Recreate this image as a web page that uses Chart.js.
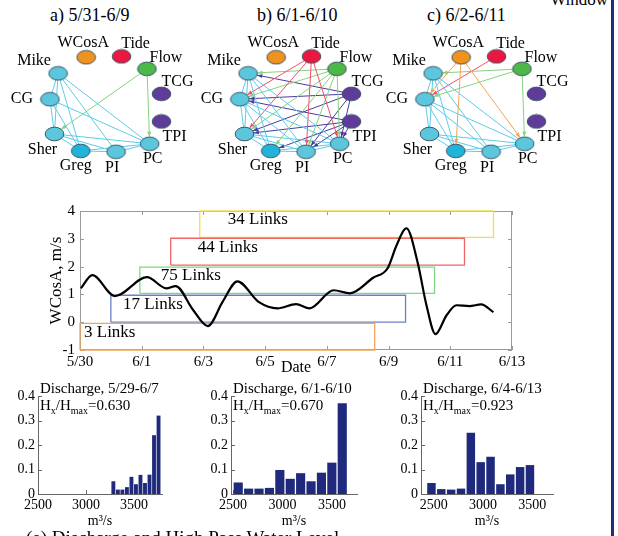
<!DOCTYPE html>
<html>
<head>
<meta charset="utf-8">
<script src="https://cdn.jsdelivr.net/npm/chart.js@4.4.0/dist/chart.umd.min.js"></script>
<style>
body { margin: 0; background: #fff; width: 618px; height: 536px; overflow: hidden; position: relative; font-family: 'Liberation Serif', serif; }
canvas { position: absolute; }
.t { position: absolute; white-space: nowrap; color: #000; line-height: 20px; }
</style>
</head>
<body>
<div class="t" style="left:50px;top:5px;font-size:18px">a) 5/31-6/9</div>
<div class="t" style="left:257px;top:5px;font-size:18px">b) 6/1-6/10</div>
<div class="t" style="left:427px;top:5px;font-size:18px">c) 6/2-6/11</div>
<div class="t" style="right:10px;top:-10px;font-size:17px">Window</div>
<div style="position:absolute;left:611px;top:0;width:3px;height:536px;background:#262b7a"></div>

<canvas id="netA" width="215" height="185" style="left:0;top:0"></canvas>
<canvas id="netB" width="215" height="185" style="left:190px;top:0"></canvas>
<canvas id="netC" width="215" height="185" style="left:375px;top:0"></canvas>
<canvas id="line" width="530" height="185" style="left:0;top:195px"></canvas>
<canvas id="h1" width="185" height="160" style="left:0;top:372px"></canvas>
<canvas id="h2" width="185" height="160" style="left:190px;top:372px"></canvas>
<canvas id="h3" width="200" height="160" style="left:380px;top:372px"></canvas>

<div class="t" style="left:26px;top:528px;font-size:19px">(e) Discharge and High Pass Water Level</div>

<script>
// ---- network panels ----
const nodeNames = ['WCosA', 'Tide', 'Flow', 'Mike', 'TCG', 'CG', 'TPI', 'Sher', 'PC', 'Greg', 'PI'];
// layout of the ring (same in all three panels)
const nodeX = [84, 123, 151, 53, 167, 44, 167, 49, 154, 78, 117];
const nodeY = [53, 52, 66, 71, 94, 100, 125, 139, 150, 158, 159];

const edgesA = [
    ['Mike', 'CG'], ['Mike', 'Sher'], ['Mike', 'Greg'], ['Mike', 'PI'], ['Mike', 'PC'],
    ['CG', 'Sher'], ['CG', 'Greg'], ['CG', 'PC'], ['Sher', 'Greg'], ['Sher', 'PC'], ['Sher', 'PI'],
    ['Greg', 'PI'], ['Greg', 'PC'], ['PI', 'PC'],
    ['Flow', 'Sher'], ['Flow', 'PC']
];
const edgesB = [
    ['Mike', 'CG'], ['Mike', 'Sher'], ['Mike', 'Greg'], ['Mike', 'PI'], ['Mike', 'PC'],
    ['CG', 'Sher'], ['CG', 'Greg'], ['CG', 'PI'], ['CG', 'PC'], ['Sher', 'Greg'], ['Sher', 'PI'], ['Sher', 'PC'],
    ['Greg', 'PI'], ['Greg', 'PC'], ['PI', 'PC'],
    ['Tide', 'CG'], ['Tide', 'Sher'], ['Tide', 'PI'], ['Tide', 'PC'],
    ['Flow', 'Mike'], ['Flow', 'CG'], ['Flow', 'Sher'], ['Flow', 'Greg'], ['Flow', 'PI'], ['Flow', 'PC'],
    ['TCG', 'Mike'], ['TCG', 'CG'], ['TCG', 'Sher'], ['TCG', 'PI'], ['TCG', 'PC'],
    ['TPI', 'CG'], ['TPI', 'Sher'], ['TPI', 'Greg'], ['TPI', 'PI'], ['TPI', 'PC']
];
const edgesC = [
    ['Mike', 'CG'], ['Mike', 'Sher'], ['Mike', 'Greg'], ['Mike', 'PI'], ['Mike', 'PC'],
    ['CG', 'Sher'], ['CG', 'Greg'], ['CG', 'PI'], ['CG', 'PC'], ['Sher', 'Greg'], ['Sher', 'PI'], ['Sher', 'PC'],
    ['Greg', 'PI'], ['Greg', 'PC'], ['PI', 'PC'],
    ['WCosA', 'CG'], ['WCosA', 'Greg'], ['WCosA', 'PC'],
    ['Tide', 'CG'],
    ['Flow', 'Mike'], ['Flow', 'CG'], ['Flow', 'PC']
];

// ---- WCosA time series (days after 5/30) ----
const days  = [0.03, 0.4, 1.13, 2.17, 2.8, 3.1, 3.66, 4.14, 4.63, 5.1, 5.8, 6.4, 7.0, 7.44, 8.22, 8.75, 9.5, 9.97, 10.26, 10.58, 10.94, 11.23, 11.52, 11.88, 12.2, 12.62, 13.0, 13.4];
const wcosa = [1.22, 1.69, 0.94, 1.62, 1.22, 1.3, 0.45, -0.14, 0.75, 1.47, 0.72, 0.5, 0.65, 0.5, 1.15, 1.04, 1.6, 1.94, 2.77, 3.38, 2.16, 0.6, -0.43, 0.25, 0.61, 0.58, 0.64, 0.36];
const dateTicks = ['5/30', '6/1', '6/3', '6/5', '6/7', '6/9', '6/11', '6/13'];

const winStart = [0, 1.0, 1.94, 2.94, 3.88];
const winEnd   = [9.55, 10.55, 11.49, 12.46, 13.4];
const winLow   = [-1, 0, 1.04, 2.05, 3.05];
const winHigh  = [-0.04, 0.97, 1.98, 3.02, 4.0];
const winLinks = ['3 Links', '17 Links', '75 Links', '44 Links', '34 Links'];

// ---- discharge histograms ----
const h1Bins = [3284, 3331, 3378, 3425, 3472, 3519, 3566, 3613, 3660, 3707, 3754];
const h1Freq = [0.052, 0.018, 0.018, 0.028, 0.07, 0.04, 0.078, 0.045, 0.079, 0.24, 0.32];
const h2Bins = [2553, 2658, 2763, 2868, 2973, 3078, 3183, 3288, 3393, 3498, 3603];
const h2Freq = [0.047, 0.022, 0.022, 0.025, 0.098, 0.062, 0.085, 0.052, 0.087, 0.128, 0.37];
const h3Bins = [2476, 2576, 2676, 2776, 2876, 2976, 3076, 3176, 3276, 3376, 3476];
const h3Freq = [0.045, 0.02, 0.018, 0.022, 0.25, 0.13, 0.152, 0.04, 0.08, 0.11, 0.118];
const histTitles = ['Discharge, 5/29-6/7', 'Discharge, 6/1-6/10', 'Discharge, 6/4-6/13'];
const histRatio  = ['0.630', '0.670', '0.923'];
const histTicks  = [2500, 3000, 3500];

// ---- styles ----
const serif = "'Liberation Serif', 'Times New Roman', serif";
Chart.defaults.font.family = serif;
Chart.defaults.color = '#000';
Chart.defaults.animation = false;
Chart.defaults.responsive = false;
Chart.defaults.plugins.legend.display = false;
Chart.defaults.plugins.tooltip.enabled = false;

const nodeGroup = { WCosA: 'wcosa', Tide: 'tide', Flow: 'flow', TCG: 'temp', TPI: 'temp' };
const nodeFill = { wcosa: '#f0921e', tide: '#ea1840', flow: '#4cb848', temp: '#5f3c99', gauge: '#5cc6dc' };
const edgeColor = { wcosa: '#f5a350', tide: '#f2506a', flow: '#86d27e', temp: '#4a3c9e', gauge: '#5ccbea' };
const labelDx = [-3, 14, 19, -24, 16, -28, 13, -12, 3, -5, -4];
const labelDy = [-14, -13, -11, -13, -12, 0, 15, 16, 15, 15, 16];

const groupOf = n => nodeGroup[n] || 'gauge';

function nodeImage(fill) {
    const c = document.createElement('canvas');
    c.width = 21; c.height = 16;
    const g = c.getContext('2d');
    g.beginPath();
    g.ellipse(10.5, 8, 9.3, 6.8, 0, 0, Math.PI * 2);
    g.fillStyle = fill;
    g.fill();
    g.lineWidth = 0.9;
    g.strokeStyle = '#2f4a5c';
    g.stroke();
    return c;
}

const nodeImg = {};
nodeNames.forEach(n => {
    nodeImg[n] = nodeImage(n === 'Greg' ? '#22b3d8' : nodeFill[groupOf(n)]);
});

const netDeco = {
    id: 'netDeco',
    afterDatasetsDraw(chart, args, opts) {
        const { ctx, scales: { x, y } } = chart;
        ctx.save();
        // arrow heads for directed links
        opts.edges.forEach(([a, b]) => {
            const g = groupOf(a);
            if (g === 'gauge') return;
            const ia = nodeNames.indexOf(a), ib = nodeNames.indexOf(b);
            const x0 = x.getPixelForValue(nodeX[ia]), y0 = y.getPixelForValue(nodeY[ia]);
            const x1 = x.getPixelForValue(nodeX[ib]), y1 = y.getPixelForValue(nodeY[ib]);
            const len = Math.hypot(x1 - x0, y1 - y0);
            const ux = (x1 - x0) / len, uy = (y1 - y0) / len;
            const r = 1 / Math.sqrt((ux / 9.5) ** 2 + (uy / 7) ** 2);
            const tx = x1 - ux * r, ty = y1 - uy * r;
            ctx.fillStyle = edgeColor[g];
            ctx.beginPath();
            ctx.moveTo(tx, ty);
            ctx.lineTo(tx - ux * 5 - uy * 2, ty - uy * 5 + ux * 2);
            ctx.lineTo(tx - ux * 5 + uy * 2, ty - uy * 5 - ux * 2);
            ctx.closePath();
            ctx.fill();
        });
        // node names
        ctx.font = '16px ' + serif;
        ctx.fillStyle = '#000';
        ctx.textAlign = 'center';
        ctx.textBaseline = 'middle';
        nodeNames.forEach((n, i) => {
            ctx.fillText(n, x.getPixelForValue(nodeX[i]) + labelDx[i], y.getPixelForValue(nodeY[i]) + labelDy[i]);
        });
        ctx.restore();
    }
};

function drawNetwork(id, edges) {
    const pos = n => {
        const i = nodeNames.indexOf(n);
        return { x: nodeX[i], y: nodeY[i] };
    };
    const links = edges.map(([a, b]) => ({
        data: [pos(a), pos(b)],
        showLine: true,
        borderColor: edgeColor[groupOf(a)],
        borderWidth: 1,
        pointRadius: 0,
        clip: false,
        order: 1
    }));
    const nodes = {
        data: nodeNames.map(pos),
        pointStyle: nodeNames.map(n => nodeImg[n]),
        pointRadius: 9,
        order: 0
    };
    new Chart(document.getElementById(id), {
        type: 'scatter',
        data: { datasets: [...links, nodes] },
        options: {
            layout: { padding: 0 },
            scales: {
                x: { display: false, min: 0, max: 215 },
                y: { display: false, min: 0, max: 185, reverse: true }
            },
            plugins: { netDeco: { edges } }
        },
        plugins: [netDeco]
    });
}

drawNetwork('netA', edgesA);
drawNetwork('netB', edgesB);
drawNetwork('netC', edgesC);

// box and inward ticks, matlab style
const frameTicks = {
    id: 'frameTicks',
    beforeDatasetsDraw(chart, args, opts) {
        const { ctx, chartArea: a, scales: { x, y } } = chart;
        ctx.save();
        ctx.strokeStyle = opts.color;
        ctx.lineWidth = 1;
        if (opts.box) ctx.strokeRect(a.left + 0.5, a.top + 0.5, a.width - 1, a.height - 1);
        ctx.beginPath();
        x.ticks.forEach(t => {
            const px = Math.round(x.getPixelForValue(t.value)) + 0.5;
            ctx.moveTo(px, a.bottom); ctx.lineTo(px, a.bottom - 4);
            if (opts.box) { ctx.moveTo(px, a.top); ctx.lineTo(px, a.top + 4); }
        });
        y.ticks.forEach(t => {
            const py = Math.round(y.getPixelForValue(t.value)) + 0.5;
            ctx.moveTo(a.left, py); ctx.lineTo(a.left + 4, py);
            if (opts.box) { ctx.moveTo(a.right, py); ctx.lineTo(a.right - 4, py); }
        });
        ctx.stroke();
        ctx.restore();
    }
};

// ---- line chart with window boxes ----
const winColors = ['#f5a35a', '#6b80c8', '#80d880', '#f06565', '#eee04a'];
const linkLabelDx = [0.13, 0.39, 0.68, 0.88, 0.91];

const linkLabels = {
    id: 'linkLabels',
    afterDatasetsDraw(chart) {
        const { ctx, scales: { x, y } } = chart;
        ctx.save();
        ctx.font = '17px ' + serif;
        ctx.fillStyle = '#000';
        ctx.textBaseline = 'middle';
        winLinks.forEach((t, i) => {
            ctx.fillText(t, x.getPixelForValue(winStart[i] + linkLabelDx[i]),
                y.getPixelForValue((winLow[i] + winHigh[i]) / 2 + 0.16));
        });
        ctx.restore();
    }
};

const windowSets = winLinks.map((t, i) => ({
    data: [
        { x: winStart[i], y: winLow[i] }, { x: winEnd[i], y: winLow[i] },
        { x: winEnd[i], y: winHigh[i] }, { x: winStart[i], y: winHigh[i] },
        { x: winStart[i], y: winLow[i] }
    ],
    showLine: true,
    borderColor: winColors[i],
    borderWidth: 1.3,
    pointRadius: 0,
    tension: 0,
    clip: false,
    order: 1
}));

new Chart(document.getElementById('line'), {
    type: 'scatter',
    data: {
        datasets: [{
            data: days.map((d, i) => ({ x: d, y: wcosa[i] })),
            showLine: true,
            borderColor: '#000',
            borderWidth: 2.2,
            pointRadius: 0,
            cubicInterpolationMode: 'monotone',
            order: 0
        }, ...windowSets]
    },
    options: {
        layout: { padding: { top: 16, right: 18, left: 0, bottom: 0 } },
        scales: {
            x: {
                min: 0, max: 14,
                grid: { display: false, drawTicks: false },
                border: { display: false },
                ticks: { stepSize: 2, maxRotation: 0, padding: 3, font: { size: 15 }, callback: v => dateTicks[v / 2] },
                title: { display: true, text: 'Date', font: { size: 16 }, padding: { top: 0, bottom: 3 } },
                afterFit: s => { s.height = 30; }
            },
            y: {
                min: -1, max: 4,
                grid: { display: false, drawTicks: false },
                border: { display: false },
                ticks: { stepSize: 1, padding: 5, font: { size: 15 } },
                title: { display: true, text: 'WCosA, m/s', font: { size: 17 }, padding: { top: 46, bottom: 0 } },
                afterFit: s => { s.width = 80; }
            }
        },
        plugins: { frameTicks: { color: '#9a9a9a', box: true } }
    },
    plugins: [frameTicks, linkLabels]
});

// ---- histograms ----
const histTitle = {
    id: 'histTitle',
    afterDraw(chart, args, o) {
        const { ctx, chartArea: a } = chart;
        ctx.save();
        ctx.fillStyle = '#000';
        ctx.textBaseline = 'middle';
        ctx.textAlign = 'left';
        ctx.font = '15px ' + serif;
        let x = a.left + o.dx;
        ctx.fillText(o.title, x, a.top - 7);
        const y2 = a.top + 10;
        [['H', 0], ['x', 1], ['/H', 0], ['max', 1], ['=' + o.ratio, 0]].forEach(([t, sub]) => {
            ctx.font = (sub ? '10px ' : '15px ') + serif;
            ctx.fillText(t, x, sub ? y2 + 5 : y2);
            x += ctx.measureText(t).width;
        });
        ctx.restore();
    }
};

function drawHist(id, bins, freq, k, xmin, xmax, yAxisW, padRight, barPct) {
    new Chart(document.getElementById(id), {
        type: 'bar',
        data: {
            datasets: [{
                data: bins.map((b, i) => ({ x: b, y: freq[i] })),
                backgroundColor: '#1f2a7c',
                barPercentage: barPct,
                categoryPercentage: 1
            }]
        },
        options: {
            layout: { padding: { top: 24, right: padRight, left: 0, bottom: 0 } },
            scales: {
                x: {
                    type: 'linear', min: xmin, max: xmax, offset: false,
                    grid: { display: false, drawTicks: false, offset: false },
                    border: { display: true, color: '#666' },
                    afterBuildTicks: s => { s.ticks = histTicks.map(v => ({ value: v })); },
                    ticks: { padding: 3, maxRotation: 0, font: { size: 14 }, callback: v => String(v) },
                    title: { display: true, text: 'm³/s', font: { size: 14 }, padding: { top: 0, bottom: 2 } },
                    afterFit: s => { s.height = 38; }
                },
                y: {
                    min: 0, max: 0.4,
                    grid: { display: false, drawTicks: false },
                    border: { display: true, color: '#666' },
                    ticks: { stepSize: 0.1, padding: 3, font: { size: 14 }, callback: v => v === 0 ? '0' : v.toFixed(1) },
                    afterFit: s => { s.width = yAxisW; }
                }
            },
            plugins: {
                frameTicks: { color: '#666', box: false },
                histTitle: { title: histTitles[k], ratio: histRatio[k], dx: 2 }
            }
        },
        plugins: [frameTicks, histTitle]
    });
}

drawHist('h1', h1Bins, h1Freq, 0, 2500, 3790, 38, 23, 0.86);
drawHist('h2', h2Bins, h2Freq, 1, 2480, 3752, 41, 18, 0.88);
drawHist('h3', h3Bins, h3Freq, 2, 2370, 3710, 41, 27, 0.86);
</script>
</body>
</html>
